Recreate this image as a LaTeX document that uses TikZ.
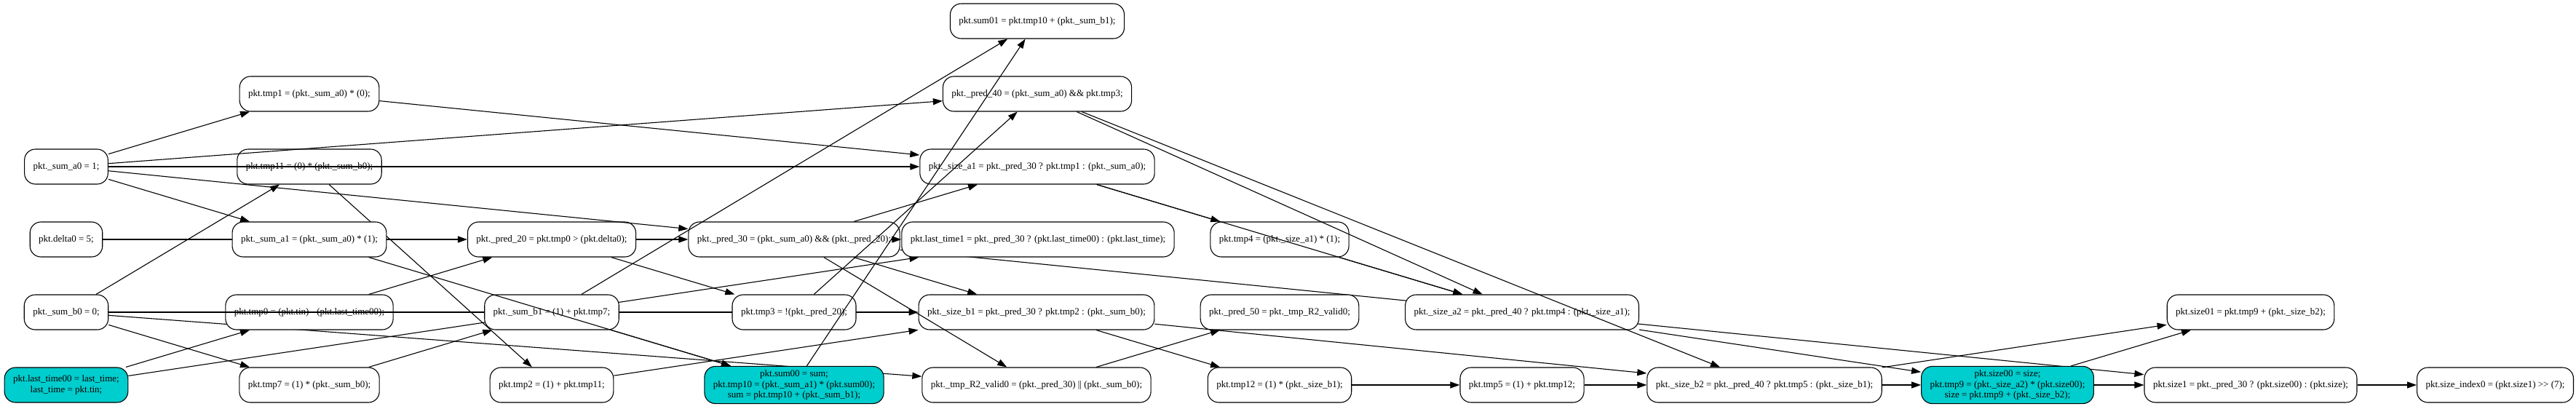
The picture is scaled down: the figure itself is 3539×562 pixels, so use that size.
\documentclass[tikz,border=0pt]{standalone}
\usepackage{fontspec}
\setmainfont{Liberation Serif}
\usetikzlibrary{arrows.meta,backgrounds}
\definecolor{nodecyan}{HTML}{00CDCD}
\tikzset{
  op/.style={draw=black, line width=1.1pt, rounded corners=15pt, fill=white,
    minimum height=48pt, inner xsep=12pt, inner ysep=5pt, align=center,
    font=\fontsize{13}{14.7}\selectfont},
  hl/.style={op, fill=nodecyan},
  edge/.style={line width=1.1pt, -{Triangle[length=13pt,width=9pt]}},
  plain/.style={line width=1.1pt},
}
\begin{document}
\begin{tikzpicture}[x=1pt,y=-1pt]
\useasboundingbox (0,0) rectangle (3539,562);
% column 0
\node[op] (A)  at (91,229) {pkt.\_sum\_a0 = 1;};
\node[op] (D)  at (91,329) {pkt.delta0 = 5;};
\node[op] (B)  at (91,429) {pkt.\_sum\_b0 = 0;};
\node[hl] (LT) at (91,529) {pkt.last\_time00 = last\_time;\\last\_time = pkt.tin;};
% column 1
\node[op] (T1)  at (425,129) {pkt.tmp1 = (pkt.\_sum\_a0) * (0);};
\node[op] (T11) at (425,229) {pkt.tmp11 = (0) * (pkt.\_sum\_b0);};
\node[op] (SA1) at (425,329) {pkt.\_sum\_a1 = (pkt.\_sum\_a0) * (1);};
\node[op] (T0)  at (425,429) {pkt.tmp0 = (pkt.tin) - (pkt.last\_time00);};
\node[op] (T7)  at (425,529) {pkt.tmp7 = (1) * (pkt.\_sum\_b0);};
% column 2
\node[op] (P20) at (758,329) {pkt.\_pred\_20 = pkt.tmp0 > (pkt.delta0);};
\node[op] (SB1) at (758,429) {pkt.\_sum\_b1 = (1) + pkt.tmp7;};
\node[op] (T2)  at (758,529) {pkt.tmp2 = (1) + pkt.tmp11;};
% column 3
\node[op] (P30) at (1091,329) {pkt.\_pred\_30 = (pkt.\_sum\_a0) \&\& (pkt.\_pred\_20);};
\node[op] (T3)  at (1091,429) {pkt.tmp3 = !(pkt.\_pred\_20);};
\node[hl] (S00) at (1091,529) {pkt.sum00 = sum;\\pkt.tmp10 = (pkt.\_sum\_a1) * (pkt.sum00);\\sum = pkt.tmp10 + (pkt.\_sum\_b1);};
% column 4
\node[op] (S01)  at (1425,29)  {pkt.sum01 = pkt.tmp10 + (pkt.\_sum\_b1);};
\node[op] (P40)  at (1425,129) {pkt.\_pred\_40 = (pkt.\_sum\_a0) \&\& pkt.tmp3;};
\node[op] (SZA1) at (1425,229) {pkt.\_size\_a1 = pkt.\_pred\_30 ? pkt.tmp1 : (pkt.\_sum\_a0);};
\node[op] (LT1)  at (1426,329) {pkt.last\_time1 = pkt.\_pred\_30 ? (pkt.last\_time00) : (pkt.last\_time);};
\node[op] (SZB1) at (1424,429) {pkt.\_size\_b1 = pkt.\_pred\_30 ? pkt.tmp2 : (pkt.\_sum\_b0);};
\node[op] (R2)   at (1424,529) {pkt.\_tmp\_R2\_valid0 = (pkt.\_pred\_30) || (pkt.\_sum\_b0);};
% column 5
\node[op] (T4)  at (1758,329) {pkt.tmp4 = (pkt.\_size\_a1) * (1);};
\node[op] (P50) at (1758,429) {pkt.\_pred\_50 = pkt.\_tmp\_R2\_valid0;};
\node[op] (T12) at (1758,529) {pkt.tmp12 = (1) * (pkt.\_size\_b1);};
% column 6
\node[op] (SZA2) at (2091,429) {pkt.\_size\_a2 = pkt.\_pred\_40 ? pkt.tmp4 : (pkt.\_size\_a1);};
\node[op] (T5)   at (2091,529) {pkt.tmp5 = (1) + pkt.tmp12;};
% column 7
\node[op] (SZB2) at (2424,529) {pkt.\_size\_b2 = pkt.\_pred\_40 ? pkt.tmp5 : (pkt.\_size\_b1);};
% column 8
\node[hl] (SZ00) at (2758,529) {pkt.size00 = size;\\pkt.tmp9 = (pkt.\_size\_a2) * (pkt.size00);\\size = pkt.tmp9 + (pkt.\_size\_b2);};
% column 9
\node[op] (SZ01) at (3092,429) {pkt.size01 = pkt.tmp9 + (pkt.\_size\_b2);};
\node[op] (SZ1)  at (3092,529) {pkt.size1 = pkt.\_pred\_30 ? (pkt.size00) : (pkt.size);};
% column 10
\node[op] (SI) at (3428,529) {pkt.size\_index0 = (pkt.size1) >{}> (7);};

% edges hidden behind nodes
\begin{pgfonlayer}{background}
\draw[edge] (D) -- (P20);
\draw[edge] (T11) -- (T2);
\draw[edge] (LT) -- (LT1);
\draw[edge] (B) -- (SZB1);
\draw[edge] (B) -- (R2);
\draw[edge] (P30) -- (SZ1);
\end{pgfonlayer}
% part of B -> SZB1 visible over tmp0
\begin{scope}
\clip (T0.south west) rectangle (T0.north east);
\draw[plain] (B) -- (SZB1);
\end{scope}

% edges drawn over nodes
\draw[edge] (A) -- (T1);
\draw[edge] (A) -- (SA1);
\draw[edge] (A) -- (P30);
\draw[edge] (A) -- (P40);
\draw[edge] (A) -- (SZA1);
\draw[edge] (B) -- (T11);
\draw[edge] (B) -- (T7);
\draw[edge] (LT) -- (T0);
\draw[edge] (T0) -- (P20);
\draw[edge] (T7) -- (SB1);
\draw[edge] (SA1) -- (S00);
\draw[edge] (SB1) -- (S00);
\draw[edge] (P20) -- (P30);
\draw[edge] (P20) -- (T3);
\draw[edge] (SB1) -- (S01);
\draw[edge] (S00) -- (S01);
\draw[edge] (T2) -- (SZB1);
\draw[edge] (T3) -- (P40);
\draw[edge] (T1) -- (SZA1);
\draw[edge] (P30) -- (SZA1);
\draw[edge] (P30) -- (SZB1);
\draw[edge] (P30) -- (R2);
\draw[edge] ([xshift=-14pt]LT1.west) -- (LT1.west);
\draw[edge] (SZA1) -- (T4);
\draw[edge] (SZA1) -- (SZA2);
\draw[edge] (P40) -- (SZA2);
\draw[edge] (P40) -- (SZB2);
\draw[edge] (T4) -- (SZA2);
\draw[edge] (R2) -- (P50);
\draw[edge] (SZB1) -- (T12);
\draw[edge] (SZB1) -- (SZB2);
\draw[edge] (T12) -- (T5);
\draw[edge] (T5) -- (SZB2);
\draw[edge] (SZA2) -- (SZ00);
\draw[edge] (SZB2) -- (SZ00);
\draw[edge] (SZB2) -- (SZ01);
\draw[edge] (SZ00) -- (SZ01);
\draw[edge] (SZ00) -- (SZ1);
\draw[edge] (SZ1) -- (SI);
\end{tikzpicture}
\end{document}
